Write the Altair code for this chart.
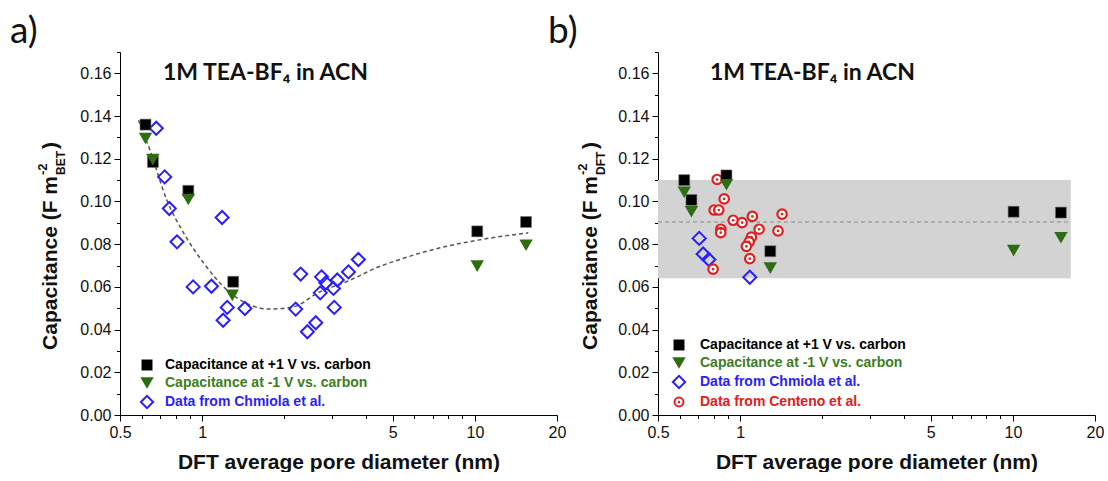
import altair as alt
import pandas as pd

# ---------------- data ----------------
# Panel a
a_pos_x = [0.62, 0.66, 0.89, 1.30, 10.2, 15.4]
a_pos_y = [0.136, 0.1185, 0.105, 0.0624, 0.086, 0.0904]
a_neg_x = [0.62, 0.66, 0.89, 1.29, 10.2, 15.4]
a_neg_y = [0.1295, 0.1196, 0.1009, 0.056, 0.0697, 0.0795]
a_chm_x = [0.679, 0.729, 0.758, 0.809, 1.184, 0.927, 1.082, 1.236, 1.194, 1.435, 2.298,
           2.203, 2.432, 2.61, 2.74, 2.84, 2.71, 3.03, 3.05, 3.13, 3.44, 3.74]
a_chm_y = [0.1343, 0.1115, 0.0967, 0.0811, 0.0925, 0.060, 0.0603, 0.0504, 0.0444, 0.0499, 0.066,
           0.0496, 0.039, 0.0432, 0.0647, 0.0619, 0.0572, 0.0593, 0.0504, 0.0632, 0.067, 0.0728]
fit_x = [0.585, 0.644, 0.743, 0.857, 1.014, 1.236, 1.50, 1.778, 2.17, 2.65, 3.50, 4.40, 5.21,
         6.89, 10.26, 15.7]
fit_y = [0.138, 0.124, 0.1006, 0.0851, 0.0711, 0.0585, 0.0515, 0.0496, 0.0507, 0.0571, 0.0632,
         0.0692, 0.0725, 0.0772, 0.0819, 0.0853]

# Panel b
b_pos_x = [0.624, 0.663, 0.891, 1.29, 10.06, 15.0]
b_pos_y = [0.110, 0.1007, 0.1122, 0.0767, 0.0952, 0.0948]
b_neg_x = [0.624, 0.663, 0.891, 1.29, 10.06, 15.0]
b_neg_y = [0.1043, 0.0952, 0.1078, 0.0688, 0.077, 0.083]
b_chm_x = [0.708, 0.732, 0.768, 1.085]
b_chm_y = [0.0827, 0.0754, 0.0728, 0.0645]
b_cen_x = [0.824, 0.874, 0.803, 0.835, 0.850, 0.849, 0.796, 0.943, 1.017, 1.109, 1.174, 1.10,
           1.079, 1.054, 1.085, 1.377, 1.425]
b_cen_y = [0.1103, 0.1012, 0.096, 0.096, 0.087, 0.0854, 0.0683, 0.0912, 0.0901, 0.093, 0.087,
           0.0833, 0.0811, 0.079, 0.0732, 0.0862, 0.0941]
band_x = [0.5, 16.3]
band_y = [0.064, 0.110]
band_mean = 0.0904

x_ticks = [0.5, 0.6, 0.7, 0.8, 0.9, 1, 2, 3, 4, 5, 6, 7, 8, 9, 10, 20]
x_major = [0.5, 1, 5, 10, 20]
y_ticks = [round(i * 0.01, 2) for i in range(18)]

leg_a = ["Capacitance at +1 V vs. carbon", "Capacitance at -1 V vs. carbon",
         "Data from Chmiola et al."]
leg_b = leg_a + ["Data from Centeno et al."]

# ---------------- styling ----------------
W, H = 437, 363
BLACK = "#000000"
GREEN = "#2f6e10"
GREEN_TXT = "#3d7d1f"
BLUE = "#2a1eff"
RED = "#e02020"
FONT = "Liberation Sans"

major_js = "[" + ",".join(str(v) for v in x_major) + "]"
xscale = alt.Scale(type="log", domain=[0.5, 20], nice=False)
yscale = alt.Scale(domain=[0, 0.17], nice=False, zero=False)

x_axis = alt.Axis(
    values=x_ticks,
    labelExpr=f"indexof({major_js}, datum.value) >= 0 ? format(datum.value, '~g') : ''",
    tickSize={"condition": {"test": f"indexof({major_js}, datum.value) >= 0", "value": 6},
              "value": 3.5},
    title="DFT average pore diameter (nm)",
    grid=False, domainColor=BLACK, tickColor=BLACK, labelColor="#111",
    labelFont=FONT, labelFontSize=16, labelPadding=3, labelOverlap=False, labelFlush=False,
    titleFont=FONT, titleFontSize=21, titleFontWeight="bold", titleColor="#111",
    titlePadding=11,
)
y_axis = alt.Axis(
    values=y_ticks,
    labelExpr="(round(datum.value*100) % 2 == 0 && datum.value < 0.165) ? format(datum.value, '.2f') : ''",
    tickSize={"condition": {"test": "round(datum.value*100) % 2 == 0", "value": 6},
              "value": 3.5},
    title=None, grid=False, domainColor=BLACK, tickColor=BLACK, labelColor="#111",
    labelFont=FONT, labelFontSize=16, labelPadding=3, labelOverlap=False,
)


def df(xs, ys):
    return pd.DataFrame({"x": xs, "y": ys})


def pts(xs, ys, **mark):
    return alt.Chart(df(xs, ys)).mark_point(**mark).encode(
        x=alt.X("x:Q", scale=xscale, axis=x_axis),
        y=alt.Y("y:Q", scale=yscale, axis=y_axis),
    )


def sq(xs, ys):
    return pts(xs, ys, shape="square", filled=True, size=120, fill=BLACK, stroke="#777",
               strokeWidth=0.6, opacity=1)


def tri(xs, ys):
    return pts(xs, ys, shape="triangle-down", filled=True, size=180, fill=GREEN, opacity=1,
               strokeWidth=0)


def dia(xs, ys):
    return pts(xs, ys, shape="diamond", filled=False, size=170, stroke=BLUE, strokeWidth=2,
               opacity=1)


def circ(xs, ys):
    ring = pts(xs, ys, shape="circle", filled=True, size=90, fill="white", stroke=RED,
               strokeWidth=2.2, opacity=1)
    dot = pts(xs, ys, shape="circle", filled=True, size=7, fill=RED, opacity=1, strokeWidth=0)
    return ring + dot


def txt(s, x, y, **mark):
    return alt.Chart(pd.DataFrame({"t": [s]})).mark_text(**mark).encode(
        x=alt.value(x), y=alt.value(y), text="t:N")


def legend_item(kind, label, color, mx, tx, ry):
    one = pd.DataFrame({"t": [label]})
    base = alt.Chart(one)
    if kind == "sq":
        m = base.mark_point(shape="square", filled=True, size=120, fill=BLACK, opacity=1)
    elif kind == "tri":
        m = base.mark_point(shape="triangle-down", filled=True, size=180, fill=GREEN, opacity=1)
    elif kind == "dia":
        m = base.mark_point(shape="diamond", filled=False, size=150, stroke=BLUE,
                            strokeWidth=2, opacity=1)
    else:
        m = base.mark_point(shape="circle", filled=True, size=80, fill="white", stroke=RED,
                            strokeWidth=2, opacity=1)
    m = m.encode(x=alt.value(mx), y=alt.value(ry))
    layers = [m]
    if kind == "circ":
        layers.append(base.mark_point(shape="circle", filled=True, size=6, fill=RED,
                                      opacity=1).encode(x=alt.value(mx), y=alt.value(ry)))
    layers.append(base.mark_text(align="left", baseline="middle", font=FONT, fontSize=14,
                                 fontWeight="bold", color=color)
                  .encode(x=alt.value(tx), y=alt.value(ry), text="t:N"))
    return layers


def ytitle(sub, x0=-63, yend=124):
    kw = dict(angle=270, font=FONT, fontWeight="bold", color="#111", baseline="alphabetic")
    return [
        txt("Capacitance (F m", x0, yend, align="right", fontSize=21, **kw),
        txt("-2", x0 - 10, yend - 1, align="left", fontSize=13, **kw),
        txt(sub, x0 + 8, yend - 1, align="left", fontSize=12, **kw),
        txt(")", x0, yend - 27, align="left", fontSize=21, **kw),
    ]


heading = "1M TEA-BF\u2084 in ACN"

# ---------------- panel a ----------------
fit = alt.Chart(df(fit_x, fit_y)).mark_line(
    color="#555", strokeDash=[4, 3], strokeWidth=1.5, interpolate="monotone"
).encode(x=alt.X("x:Q", scale=xscale, axis=x_axis), y=alt.Y("y:Q", scale=yscale, axis=y_axis))

layers_a = [fit, dia(a_chm_x, a_chm_y), sq(a_pos_x, a_pos_y), tri(a_neg_x, a_neg_y),
            txt("a)", -110, -20, align="left", baseline="middle", font="Lato", fontSize=37,
                color="#111"),
            txt(heading, 43, 21, align="left", baseline="middle", font="Lato", fontSize=23,
                fontWeight="bold", color="#111")]
layers_a += ytitle("BET")
for kind, lab, col, ry in zip(["sq", "tri", "dia"], leg_a, [BLACK, GREEN_TXT, BLUE],
                              [313, 331, 350]):
    layers_a += legend_item(kind, lab, col, 27, 45, ry)
panel_a = alt.layer(*layers_a).properties(width=W, height=H)

# ---------------- panel b ----------------
band = alt.Chart(pd.DataFrame({"x": [band_x[0]], "x2": [band_x[1]], "y": [band_y[0]],
                               "y2": [band_y[1]]})).mark_rect(color="#d3d3d3").encode(
    x=alt.X("x:Q", scale=xscale, axis=x_axis), x2="x2:Q",
    y=alt.Y("y:Q", scale=yscale, axis=y_axis), y2="y2:Q")
mean_line = alt.Chart(pd.DataFrame({"x": band_x, "y": [band_mean, band_mean]})).mark_line(
    color="#8a8a8a", strokeDash=[4, 3], strokeWidth=1).encode(
    x=alt.X("x:Q", scale=xscale, axis=x_axis), y=alt.Y("y:Q", scale=yscale, axis=y_axis))

layers_b = [band, mean_line, dia(b_chm_x, b_chm_y), circ(b_cen_x, b_cen_y),
            sq(b_pos_x, b_pos_y), tri(b_neg_x, b_neg_y),
            txt("b)", -110, -20, align="left", baseline="middle", font="Lato", fontSize=37,
                color="#111"),
            txt(heading, 52, 21, align="left", baseline="middle", font="Lato", fontSize=23,
                fontWeight="bold", color="#111")]
layers_b += ytitle("DFT", x0=-61)
for kind, lab, col, ry in zip(["sq", "tri", "dia", "circ"], leg_b,
                              [BLACK, GREEN_TXT, BLUE, RED], [293, 311, 330, 350]):
    layers_b += legend_item(kind, lab, col, 21, 42, ry)
panel_b = alt.layer(*layers_b).properties(width=W, height=H)

chart = alt.hconcat(panel_a, panel_b, spacing=101, bounds="flush").properties(
    padding={"left": 10, "top": 13, "right": 0, "bottom": 0},
    background="white",
).configure_view(stroke=None)

chart.save("out.html", embed_options={"renderer": "svg", "actions": False})
